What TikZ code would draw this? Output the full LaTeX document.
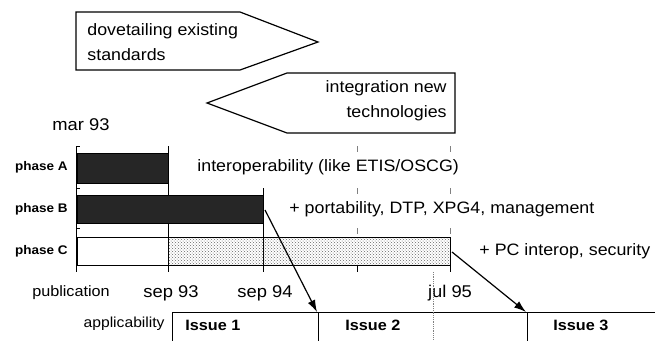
\documentclass[tikz,border=0pt]{standalone}
\usepackage{fontspec}
\setmainfont{Liberation Sans}[FakeStretch=1.08]
\usetikzlibrary{patterns,arrows.meta}

\begin{document}
\begin{tikzpicture}[x=1pt,y=-1pt,line width=0.8pt]
\tikzstyle{lbl}=[inner sep=0pt, font=\fontsize{16.5}{19}\selectfont]
\tikzstyle{date}=[inner sep=0pt, font=\fontsize{17}{20}\selectfont]
\tikzstyle{phase}=[inner sep=0pt, anchor=east, font=\bfseries\fontsize{12.5}{15}\selectfont]
\tikzstyle{issue}=[inner sep=0pt, anchor=west, font=\bfseries\fontsize{15}{18}\selectfont]
\tikzstyle{bar}=[draw, fill=black!85]
\tikzstyle{gridtick}=[gray, line width=0.6pt]

\useasboundingbox (0,0) rectangle (655,340);

% the two banners
\draw[line width=1.2pt] (76,12) -- (240,12) -- (318,42) -- (240,70) -- (76,70) -- cycle;
\node[lbl, anchor=west, align=left, font=\fontsize{16.5}{25}\selectfont] (dovetail) at (87,42) {dovetailing existing\\standards};
\draw[line width=1.2pt] (455,73) -- (287,73) -- (207,103) -- (287,133) -- (455,133) -- cycle;
\node[lbl, anchor=east, align=right, font=\fontsize{16.5}{25}\selectfont] (integration) at (447,101) {integration new\\technologies};

\node[date] (start) at (81,125) {mar 93};

% time grid
\draw (76,146) -- (76,270);
\draw (168,146) -- (168,272);
\draw (263,188) -- (263,272);
\draw (450,237) -- (450,272);
\foreach \x in {76,168,263,357,450} {
\draw (\x,265) -- (\x,272);
}
\foreach \x in {357,450} {
\foreach \y in {146,188,228} {
\draw[gridtick] (\x,\y) -- (\x,\y+6);
}
}
\foreach \y in {146,188,228} {
\draw (76,\y) -- (80,\y);
}

% phases
\draw[bar] (77,153) rectangle (168,183);
\draw[bar] (77,195) rectangle (263,223);
\draw (77,237) rectangle (450,265);
\draw[pattern=crosshatch dots, pattern color=black!60] (168,237) rectangle (450,265);

\node[phase] (phaseA) at (68,167) {phase A};
\node[phase] (phaseB) at (68,209) {phase B};
\node[phase] (phaseC) at (68,251) {phase C};

\node[lbl, anchor=west] (interop) at (197,167) {interoperability (like ETIS/OSCG)};
\node[lbl, anchor=west] (porta) at (289,209) {+ portability, DTP, XPG4, management};
\node[lbl, anchor=west] (pcsec) at (479,251) {+ PC interop, security};

% publication dates
\node[lbl, font=\fontsize{15}{18}\selectfont] (publication) at (71,293) {publication};
\node[date] (sep93) at (171,293) {sep 93};
\node[date] (sep94) at (265,293) {sep 94};
\node[date] (jul95) at (450,293) {jul 95};

% applicability
\draw (172,341) -- (172,312) -- (655,312);
\draw (318,312) -- (318,341);
\draw (527,312) -- (527,341);
\draw[gray, densely dotted] (433,272) -- (433,340);
\node[lbl, anchor=east, font=\fontsize{14.5}{17}\selectfont] (applicability) at (165,324) {applicability};
\node[issue] (issue1) at (185,325) {Issue 1};
\node[issue] (issue2) at (345,325) {Issue 2};
\node[issue] (issue3) at (553,325) {Issue 3};

\coordinate (endB) at (265,210);
\coordinate (endC) at (452,252);
\coordinate (start2) at (317,312);
\coordinate (start3) at (526,312);
\draw[line width=1.2pt, -{Latex[length=12pt,width=8pt]}] (endB) -- (start2);
\draw[line width=1.2pt, -{Latex[length=12pt,width=8pt]}] (endC) -- (start3);

\end{tikzpicture}
\end{document}
